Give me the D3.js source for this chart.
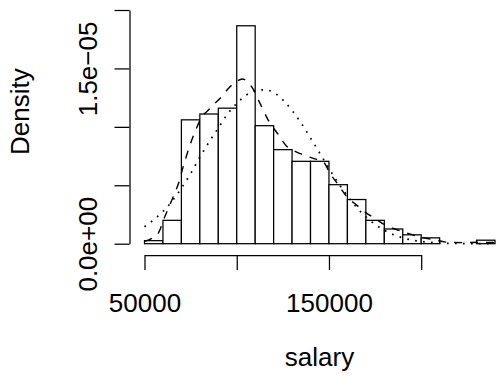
<!DOCTYPE html>
<html>
<head>
<meta charset="utf-8">
<script src="https://cdn.jsdelivr.net/npm/d3@7"></script>
<style>
  html, body { margin: 0; padding: 0; background: #fff; }
  svg { display: block; font-family: "Liberation Sans", Arial, Helvetica, sans-serif; }
</style>
</head>
<body>
<svg id="chart" width="502" height="381"></svg>
<script>
// Histogram of salary (bin width 10000), density scale
const binEdges = [50000, 60000, 70000, 80000, 90000, 100000, 110000, 120000, 130000, 140000,
                  150000, 160000, 170000, 180000, 190000, 200000, 210000, 220000, 230000, 240000];
// density per bin, in units of 1e-6
const binDensity = [0.26, 2.0, 10.6, 11.1, 11.6, 18.65, 10.1, 8.05, 7.05, 7.05,
                    5.05, 3.78, 2.0, 1.26, 0.76, 0.5, 0, 0, 0.3];

// kernel density estimate (dashed): salary in thousands, density in 1e-6
const kdeSalaryK = [50, 54, 57.5, 61, 65, 68.5, 71, 75, 78.5, 80, 85, 91, 96.5, 100, 103, 105.5, 109,
                    112.5, 117, 122, 127, 131, 134.5, 141.5, 147, 150.5, 155, 159.5, 165, 170.5, 175,
                    180.5, 185, 190.5, 199.5, 208.5, 214, 222.5, 232, 241, 245];
const kdeDensity = [0.2, 0.45, 0.9, 2.3, 3.8, 5.2, 6.6, 8.6, 10.0, 10.55, 11.5, 12.45, 13.45, 13.9, 14.1, 13.9, 13.2,
                    12.05, 10.6, 9.45, 8.35, 7.95, 7.7, 7.3, 7.0, 6.05, 5.05, 4.05, 3.3, 2.6, 2.15,
                    1.6, 1.3, 1.0, 0.57, 0.3, 0.13, 0.09, 0.12, 0.09, 0.07];

// normal density curve (dotted): salary in thousands, density in 1e-6
const normSalaryK = [50, 55, 60, 65, 70, 75, 80, 85, 90, 95, 100, 105, 110, 115, 120, 125, 130, 135,
                     140, 145, 150, 155, 160, 165, 170, 175, 180, 185, 190, 195, 200, 205, 210, 215,
                     220, 225, 230, 235, 240];
const normDensity = [1.45, 2.05, 2.75, 3.65, 4.75, 6.0, 7.4, 8.7, 9.9, 11.1, 12.0, 12.7, 13.1, 13.17, 12.95,
                     12.3, 11.4, 10.3, 9.05, 7.75, 6.45, 5.2, 4.1, 3.1, 2.3, 1.65, 1.15, 0.77, 0.5, 0.31,
                     0.19, 0.11, 0.06, 0.03, 0.02, 0.01, 0.005, 0.002, 0.001];

// axis ticks and labels
const xTickValues = [50000, 100000, 150000, 200000];
const xTickLabels = ["50000", "", "150000", ""];
const yTickValues = [0, 5e-6, 1e-5, 1.5e-5, 2e-5];
const yTickLabels = ["0.0e+00", "", "", "1.5e\u221205", ""];

const xTitle = "salary";
const yTitle = "Density";

const svg = d3.select("#chart");
const fontSize = 26;
const lineWidth = 1.25;

const x = d3.scaleLinear().domain([50000, 200000]).range([144.5, 421.2]);
const y = d3.scaleLinear().domain([0, 2e-5]).range([243.7, 10]);

// bars
const bins = binDensity.map((d, i) => ({ x0: binEdges[i], x1: binEdges[i + 1], d: d * 1e-6 }));
svg.append("g")
  .selectAll("rect")
  .data(bins)
  .join("rect")
    .attr("x", b => x(b.x0))
    .attr("width", b => x(b.x1) - x(b.x0))
    .attr("y", b => y(b.d))
    .attr("height", b => y(0) - y(b.d))
    .attr("fill", "#fff")
    .attr("stroke", "#000")
    .attr("stroke-width", lineWidth);

// density curves
const line = d3.line()
  .x(p => x(p[0] * 1000))
  .y(p => y(p[1] * 1e-6))
  .curve(d3.curveMonotoneX);

svg.append("path")
  .datum(kdeSalaryK.map((s, i) => [s, kdeDensity[i]]))
  .attr("d", line)
  .attr("fill", "none")
  .attr("stroke", "#000")
  .attr("stroke-width", 1.4)
  .attr("stroke-dasharray", "8 8");

svg.append("path")
  .datum(normSalaryK.map((s, i) => [s, normDensity[i]]))
  .attr("d", line)
  .attr("fill", "none")
  .attr("stroke", "#000")
  .attr("stroke-width", 1.7)
  .attr("stroke-dasharray", "1.7 6.3");

// x axis
const gx = svg.append("g")
  .attr("transform", "translate(0,255)")
  .call(d3.axisBottom(x)
    .tickValues(xTickValues)
    .tickFormat((d, i) => xTickLabels[i])
    .tickSize(15)
    .tickSizeOuter(0)
    .tickPadding(23.5));

// y axis
const gy = svg.append("g")
  .attr("transform", "translate(129.5,0)")
  .call(d3.axisLeft(y)
    .tickValues(yTickValues)
    .tickFormat((d, i) => yTickLabels[i])
    .tickSize(15)
    .tickSizeOuter(0));

gy.selectAll(".tick text")
  .attr("x", 0)
  .attr("y", -33)
  .attr("dy", null)
  .attr("text-anchor", "middle")
  .attr("transform", "rotate(-90)");

[gx, gy].forEach(g => {
  g.attr("font-family", null).attr("font-size", null);
  g.selectAll("text").attr("font-size", fontSize).attr("fill", "#000");
  g.selectAll("line, path").attr("stroke", "#000").attr("stroke-width", lineWidth);
});

// axis titles
svg.append("text")
  .attr("x", 319.5)
  .attr("y", 366)
  .attr("text-anchor", "middle")
  .attr("font-size", fontSize)
  .text(xTitle);

svg.append("text")
  .attr("transform", "translate(28.6,111.7) rotate(-90)")
  .attr("text-anchor", "middle")
  .attr("font-size", fontSize)
  .text(yTitle);
</script>
</body>
</html>
